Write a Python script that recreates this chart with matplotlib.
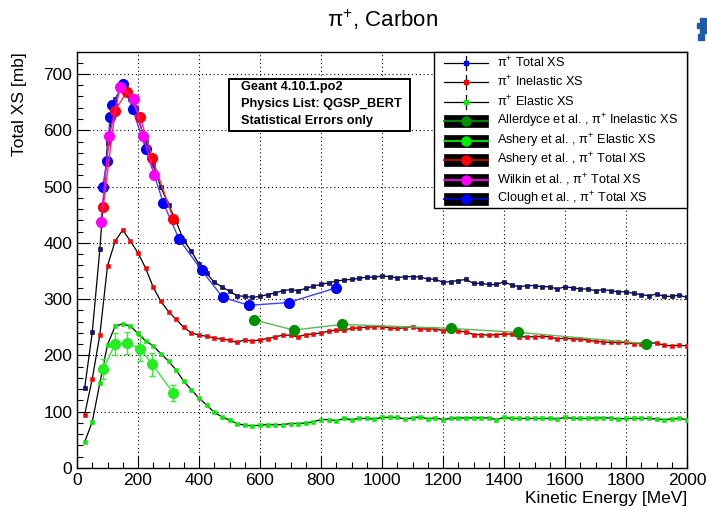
import numpy as np
import matplotlib.pyplot as plt
from matplotlib.patches import Rectangle
from matplotlib.lines import Line2D
from matplotlib.ticker import MultipleLocator

plt.rcParams['font.family'] = ['Liberation Sans', 'DejaVu Sans']
plt.rcParams['mathtext.fontset'] = 'custom'
plt.rcParams['mathtext.rm'] = 'Liberation Sans'
plt.rcParams['mathtext.bf'] = 'Liberation Sans:bold'

# Geant4 simulation, 25 MeV steps
energy = np.arange(25, 2025, 25)
total_xs = [141.5, 241, 389, 578, 656, 679, 655, 621, 581, 538,
            499, 468, 438, 404, 385, 362, 346, 330, 322, 314,
            306, 305, 303, 305, 308, 311, 315, 317, 315, 319,
            323, 326, 329, 332, 334, 335, 337, 339, 339, 341,
            340, 338, 340, 340, 339, 336, 335, 330, 331, 333,
            335, 328, 328, 326, 326, 331, 325, 322, 324, 324,
            322, 322, 318, 322, 320, 318, 318, 315, 317, 315,
            313, 313, 310, 308, 306, 309, 305, 305, 307, 303]
inel_xs = [95, 158, 237, 359, 403, 423, 403, 382, 355, 321,
           296, 278, 264, 250, 240, 236, 234, 231, 229, 227,
           223, 228, 225, 228, 230, 233, 236, 236, 233, 237,
           238, 240, 243, 245, 245, 248, 249, 250, 251, 251,
           249, 248, 249, 251, 247, 247, 247, 244, 245, 243,
           242, 237, 237, 236, 237, 238, 238, 233, 233, 233,
           234, 233, 229, 231, 229, 229, 227, 225, 224, 223,
           223, 223, 221, 221, 222, 222, 218, 217, 218, 217]
el_xs = [46, 82, 151, 219, 252, 256, 252, 239, 226, 217,
         203, 190, 174, 154, 139, 124, 112, 99, 91, 85,
         79, 76, 75, 76, 77, 77, 77, 79, 79, 80,
         82, 86, 86, 84, 88, 86, 88, 88, 87, 90,
         90, 90, 87, 89, 91, 87, 89, 86, 88, 89,
         89, 89, 89, 89, 86, 90, 88, 88, 88, 88,
         88, 88, 87, 90, 88, 88, 88, 89, 89, 89,
         87, 88, 88, 88, 88, 87, 86, 87, 88, 86]

# experimental data
clough_e = [84, 98, 108, 116, 152, 183, 226, 283, 335, 409, 478, 565, 694, 849]
clough_xs = [499, 545, 624, 644, 682, 637, 566, 471, 406, 351, 303, 289, 294, 320]
ashery_tot_e = [86, 125, 163, 207, 247, 316]
ashery_tot_xs = [464, 635, 668, 624, 550, 442]
wilkin_e = [78, 106, 141, 187, 217, 254]
wilkin_xs = [437, 589, 676, 656, 589, 521]
ashery_el_e = [86, 125, 163, 207, 247, 316]
ashery_el_xs = [176, 220, 222, 212, 184, 133]
ashery_el_err = [18, 20, 20, 22, 20, 14]
allerdyce_e = [581, 711, 868, 1226, 1445, 1866]
allerdyce_xs = [263, 245, 255, 248, 241, 221]

W, H = 707, 508
fig = plt.figure(figsize=(W/100, H/100), dpi=100)
ax = fig.add_axes([77/W, 1-468/H, 610/W, 416/H])

def fx(px):
    return px / W

def fy(py):
    return 1 - py / H

# simulation curves
ax.plot(energy, total_xs, color='black', lw=0.9, marker='s', ms=3,
        mfc='#1010a0', mec='black', mew=0.4, zorder=3)
ax.plot(energy, inel_xs, color='black', lw=0.9, marker='s', ms=3,
        mfc='red', mec='red', mew=0.4, zorder=3)
ax.plot(energy, el_xs, color='black', lw=0.9, marker='s', ms=3,
        mfc='#00ee00', mec='#00ee00', mew=0.4, zorder=3)

# data
ax.plot(allerdyce_e, allerdyce_xs, color='#55bb55', lw=1, marker='o', ms=7,
        mfc='#009000', mec='#009000', zorder=4)
ax.errorbar(ashery_el_e, ashery_el_xs, yerr=ashery_el_err, color='#33ee33', lw=1,
            marker='o', ms=7, mfc='#22ee22', mec='#22ee22', capsize=2, zorder=4)
ax.plot(clough_e, clough_xs, color='#4040ff', lw=1, marker='o', ms=7,
        mfc='blue', mec='blue', zorder=5)
ax.plot(ashery_tot_e, ashery_tot_xs, color='#ff3030', lw=1, marker='o', ms=7,
        mfc='red', mec='red', zorder=5)
ax.plot(wilkin_e, wilkin_xs, color='magenta', lw=1, marker='o', ms=7,
        mfc='magenta', mec='magenta', zorder=5)

ax.set_xlim(0, 2000)
ax.set_ylim(0, 739)
ax.xaxis.set_major_locator(MultipleLocator(200))
ax.xaxis.set_minor_locator(MultipleLocator(50))
ax.yaxis.set_major_locator(MultipleLocator(100))
ax.yaxis.set_minor_locator(MultipleLocator(20))
ax.tick_params(which='both', direction='in', labelsize=12.5, width=0.8)
ax.tick_params(which='major', length=9)
ax.tick_params(which='minor', length=4.5)
ax.grid(True, which='major', ls=(0, (1, 2.5)), color='black', lw=0.8)
for s in ax.spines.values():
    s.set_linewidth(1)

ax.set_xlabel('Kinetic Energy [MeV]', fontsize=12.5, loc='right', labelpad=2)
ax.set_ylabel('Total XS [mb]', fontsize=12.5, loc='top')
ax.yaxis.set_label_coords(-0.082, 1)
fig.text(fx(383), fy(20), 'π$^{+}$, Carbon', fontsize=16, ha='center', va='center')

# info box
fig.add_artist(Rectangle((fx(229), fy(131)), fx(181), 52/H, transform=fig.transFigure,
                         fc='white', ec='black', lw=1.4, zorder=6))
info_lines = ['Geant 4.10.1.po2', 'Physics List: QGSP_BERT', 'Statistical Errors only']
for i, t in enumerate(info_lines):
    fig.text(fx(241), fy(87 + 17*i), t, fontsize=9.2, fontweight='bold',
             ha='left', va='center', zorder=7)

# legend, drawn by hand to match the box layout
fig.add_artist(Rectangle((fx(434), fy(208)), fx(253), 156/H, transform=fig.transFigure,
                         fc='white', ec='black', lw=1, zorder=6))
sim_colors = ['blue', 'red', '#00ee00']
data_colors = [('#009000', '#009000'), ('#00ee00', '#00ee00'), ('red', '#cc0000'),
               ('magenta', 'magenta'), ('blue', '#0000cc')]
labels = ['π$^{+}$ Total XS', 'π$^{+}$ Inelastic XS', 'π$^{+}$ Elastic XS',
          'Allerdyce et al. , π$^{+}$ Inelastic XS', 'Ashery et al. , π$^{+}$ Elastic XS',
          'Ashery et al. , π$^{+}$ Total XS', 'Wilkin et al. , π$^{+}$ Total XS',
          'Clough et al. , π$^{+}$ Total XS']
for i, lab in enumerate(labels):
    yc = 62.7 + 19.5*i
    if i < 3:
        fig.add_artist(Line2D([fx(444), fx(488)], [fy(yc), fy(yc)], color='black', lw=0.9,
                              transform=fig.transFigure, zorder=7))
        fig.add_artist(Line2D([fx(466), fx(466)], [fy(yc-7), fy(yc+7)], color='black', lw=0.9,
                              transform=fig.transFigure, zorder=7))
        fig.add_artist(Line2D([fx(466)], [fy(yc)], color=sim_colors[i], marker='s', ms=2.5,
                              ls='none', transform=fig.transFigure, zorder=8))
    else:
        mc, lc = data_colors[i-3]
        fig.add_artist(Rectangle((fx(444), fy(yc+6)), fx(44), 12/H, transform=fig.transFigure,
                                 fc='black', ec='black', lw=0.5, zorder=7))
        fig.add_artist(Line2D([fx(444), fx(488)], [fy(yc), fy(yc)], color=lc, lw=1.3,
                              transform=fig.transFigure, zorder=8))
        fig.add_artist(Line2D([fx(466)], [fy(yc)], color=mc, marker='o', ms=6.5,
                              ls='none', transform=fig.transFigure, zorder=9))
    fig.text(fx(497), fy(yc), lab, fontsize=9.2, ha='left', va='center', zorder=8)

# logo fragment at top right
for (x0, y0, w, h) in [(700, 18, 7, 4), (697, 23, 10, 5), (700, 29, 7, 4), (698, 34, 6, 6)]:
    fig.add_artist(Rectangle((fx(x0), fy(y0 + h)), fx(w), h/H,
                             transform=fig.transFigure, color='#1f5ca8'))

fig.savefig('out.png', dpi=100)
